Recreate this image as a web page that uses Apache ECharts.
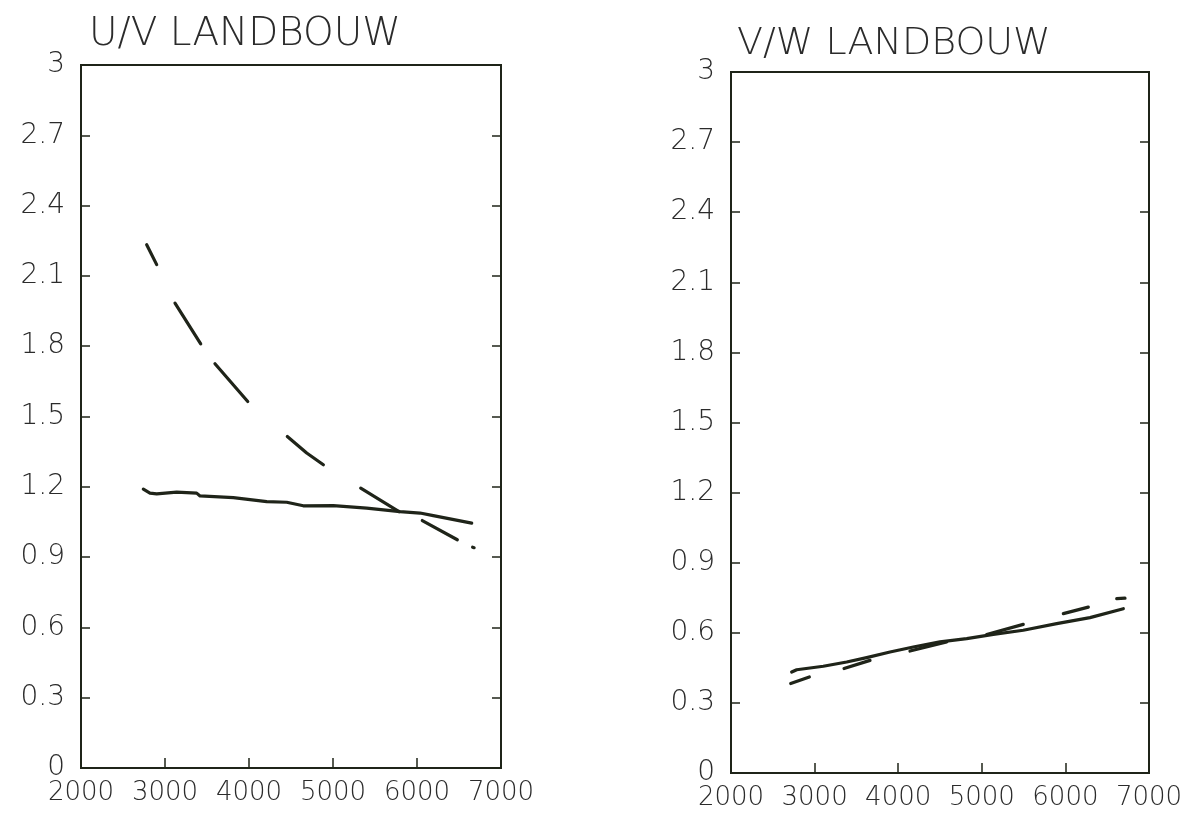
<!DOCTYPE html>
<html>
<head>
<meta charset="utf-8">
<title>LANDBOUW</title>
<script src="https://cdn.jsdelivr.net/npm/echarts@6/dist/echarts.min.js"></script>
<style>
html,body{margin:0;padding:0;background:#fff;}
#main{width:1190px;height:817px;}
</style>
</head>
<body>
<div id="main"></div>
<script>
// 数据
var yTicks = [0, 0.3, 0.6, 0.9, 1.2, 1.5, 1.8, 2.1, 2.4, 2.7, 3];
var xTicks = [2000, 3000, 4000, 5000, 6000, 7000];

// U/V 实线
var uvSolidX = [2742, 2821, 2901, 3139, 3377, 3417, 3813, 4211, 4449, 4646, 5004, 5401, 5798, 6036, 6194, 6651];
var uvSolidY = [1.190, 1.173, 1.170, 1.177, 1.173, 1.161, 1.154, 1.137, 1.134, 1.119, 1.120, 1.109, 1.094, 1.088, 1.077, 1.045];
// U/V 虚线 (null = 断开)
var uvDashX = [2782, 2901, 0, 3119, 3425, 0, 3595, 3985, 0, 4456, 4687, 4885, 0, 5330, 5786, 0, 6063, 6480, 0, 6662, 6680];
var uvDashY = [2.233, 2.148, null, 1.984, 1.810, null, 1.725, 1.564, null, 1.415, 1.344, 1.294, null, 1.194, 1.094, null, 1.056, 0.974, null, 0.942, 0.940];

// V/W 实线
var vwSolidX = [2726, 2786, 3104, 3384, 3623, 3902, 4181, 4500, 4819, 5138, 5496, 5896, 6294, 6693];
var vwSolidY = [0.432, 0.442, 0.457, 0.475, 0.494, 0.518, 0.539, 0.561, 0.575, 0.593, 0.611, 0.639, 0.665, 0.703];
// V/W 虚线
var vwDashX = [2714, 2937, 0, 3352, 3663, 0, 4141, 4580, 0, 5058, 5496, 0, 5975, 6274, 0, 6614, 6713];
var vwDashY = [0.383, 0.411, null, 0.447, 0.482, null, 0.522, 0.561, null, 0.593, 0.636, null, 0.682, 0.710, null, 0.746, 0.748];

var ink = '#1f2419';
var font = 'DejaVu Sans';

function pairs(xs, ys) {
    var out = [];
    for (var i = 0; i < xs.length; i++) {
        out.push(ys[i] == null ? [xs[i], '-'] : [xs[i], ys[i]]);
    }
    return out;
}

function yLabel(v) {
    return String(Math.round(v * 10) / 10);
}

function xAxisFor(idx) {
    return {
        type: 'value', gridIndex: idx,
        min: xTicks[0], max: xTicks[xTicks.length - 1], interval: 1000,
        axisLine: {show: false},
        axisTick: {show: true, inside: true, length: 10, lineStyle: {color: ink, width: 1.5}},
        splitLine: {show: false},
        axisLabel: {color: '#2b2b2b', fontFamily: font, fontWeight: 200, fontSize: 26, margin: 12,
            formatter: function (v) { return String(v); },
            showMinLabel: true, showMaxLabel: true}
    };
}

function yAxesFor(idx) {
    var base = {
        type: 'value', gridIndex: idx,
        min: yTicks[0], max: yTicks[yTicks.length - 1], interval: 0.3,
        axisLine: {show: false},
        axisTick: {show: true, inside: true, length: 9, lineStyle: {color: ink, width: 1.5}},
        splitLine: {show: false}
    };
    var left = echarts.util.merge({
        position: 'left',
        axisLabel: {color: '#2b2b2b', fontFamily: font, fontWeight: 200, fontSize: 28, margin: 16,
            formatter: yLabel, showMinLabel: true, showMaxLabel: true}
    }, base, false);
    var right = echarts.util.merge({
        position: 'right',
        axisLabel: {show: false}
    }, base, false);
    return [left, right];
}

function lineSeries(idx, data) {
    return {
        type: 'line', xAxisIndex: idx, yAxisIndex: idx * 2,
        data: data, symbol: 'none', silent: true, connectNulls: false,
        lineStyle: {color: ink, width: 3.2, cap: 'round', join: 'round'}
    };
}

var chart = echarts.init(document.getElementById('main'));
var ya = yAxesFor(0), yb = yAxesFor(1);
chart.setOption({
    backgroundColor: '#fff',
    animation: false,
    title: [
        {text: 'U/V LANDBOUW', left: 84, top: 10,
            textStyle: {color: '#2b2b2b', fontFamily: font, fontWeight: 200, fontSize: 39}},
        {text: 'V/W LANDBOUW', left: 732, top: 20,
            textStyle: {color: '#2b2b2b', fontFamily: font, fontWeight: 200, fontSize: 38}}
    ],
    grid: [
        {left: 81, top: 65, right: 689, bottom: 49, show: true, borderColor: ink, borderWidth: 2},
        {left: 731, top: 72, right: 41, bottom: 44, show: true, borderColor: ink, borderWidth: 2}
    ],
    xAxis: [xAxisFor(0), xAxisFor(1)],
    yAxis: [ya[0], ya[1], yb[0], yb[1]],
    series: [
        lineSeries(0, pairs(uvSolidX, uvSolidY)),
        lineSeries(0, pairs(uvDashX, uvDashY)),
        lineSeries(1, pairs(vwSolidX, vwSolidY)),
        lineSeries(1, pairs(vwDashX, vwDashY))
    ]
});
</script>
</body>
</html>
